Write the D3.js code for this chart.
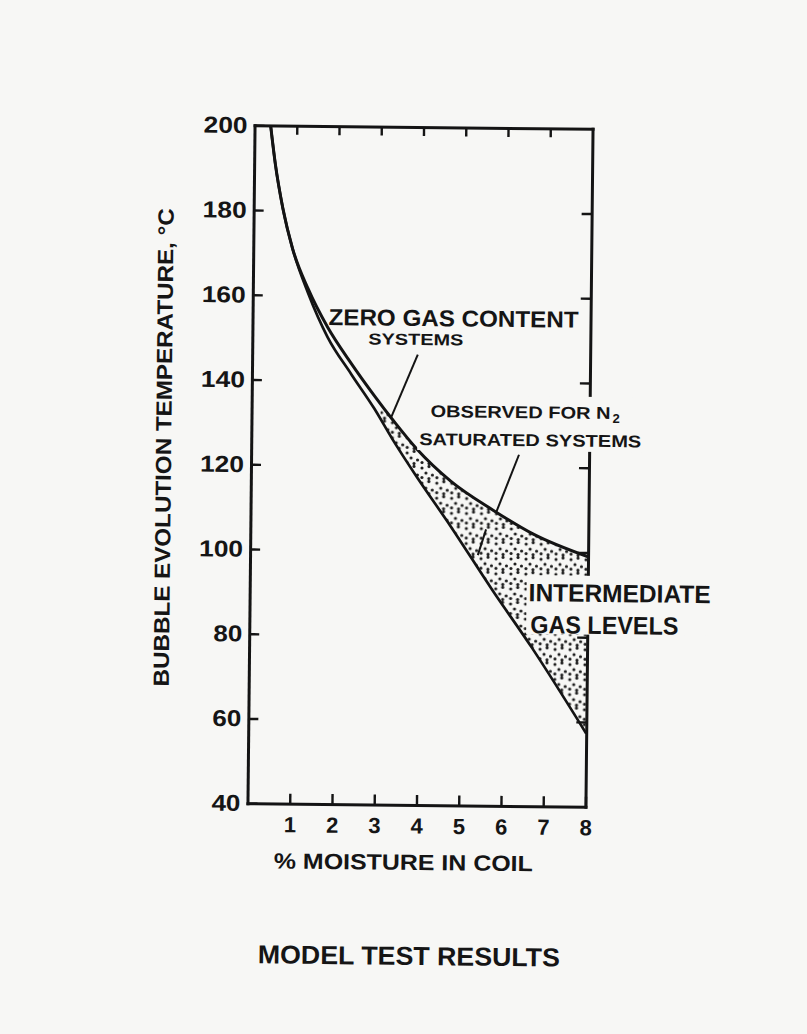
<!DOCTYPE html>
<html>
<head>
<meta charset="utf-8">
<script src="https://cdn.jsdelivr.net/npm/d3@7"></script>
<style>
  body { margin: 0; background: #f7f7f5; }
  svg { display: block; }
  text { font-family: "Liberation Sans", Arial, sans-serif; font-weight: bold; fill: #151515; }
</style>
</head>
<body>
<svg id="chart"></svg>
<script>
// values
var moisture   = [0.38, 0.5, 0.69, 0.93, 1.31, 1.78, 2.35, 2.9, 3.37, 3.92, 4.73, 5.75, 6.7, 8.0];
var upperTemp  = [200, 191, 180.5, 171, 161.5, 152.5, 144, 136.5, 130.5, 124, 116.5, 109.7, 104.2, 99];
var lowerTemp  = [200, 191, 180.5, 171, 160.5, 150.2, 141.5, 133.5, 125.8, 117.5, 106, 90.8, 77.3, 57.3];
var xTicks = [1, 2, 3, 4, 5, 6, 7, 8];
var yTicks = [40, 60, 80, 100, 120, 140, 160, 180, 200];
var dotsFrom = 3.05;   // stippling starts here
// leader lines [x1, t1, x2, t2]
var pointers = [
  [3.92, 146.3, 3.30, 131.3],
  [6.34, 122.9, 5.82, 109.4],
  [5.58, 105.2, 5.39, 99.1]
];

var width = 807, height = 1034;
var x0 = 251, x1 = 589, y0 = 127, y1 = 805;
var ink = "#141414";

var svg = d3.select("#chart").attr("width", width).attr("height", height);

var defs = svg.append("defs");
var pat = defs.append("pattern")
    .attr("id", "stipple")
    .attr("patternUnits", "userSpaceOnUse")
    .attr("width", 15).attr("height", 15);
[[2, 3], [9, 1.5], [6, 8], [12.5, 10], [2, 12.5], [9, 13.5]].forEach(function(p) {
  pat.append("circle").attr("cx", p[0]).attr("cy", p[1]).attr("r", 1.55).attr("fill", "#1c1c1c");
});

var x = d3.scaleLinear().domain([0, 8]).range([x0, x1]);
var y = d3.scaleLinear().domain([40, 200]).range([y1, y0]);

defs.append("clipPath").attr("id", "dotclip")
  .append("rect")
    .attr("x", x(dotsFrom)).attr("y", y0)
    .attr("width", x1 - x(dotsFrom)).attr("height", y1 - y0);

// the scan is a little tilted
var g = svg.append("g").attr("transform", "rotate(0.6,420,466)");

var rows = moisture.map(function(m, i) { return {m: m, hi: upperTemp[i], lo: lowerTemp[i]}; });

var area = d3.area()
    .x(function(d) { return x(d.m); })
    .y0(function(d) { return y(d.lo); })
    .y1(function(d) { return y(d.hi); })
    .curve(d3.curveMonotoneX);

g.append("path")
    .datum(rows)
    .attr("d", area)
    .attr("fill", "url(#stipple)")
    .attr("clip-path", "url(#dotclip)");

var lineHi = d3.line().x(function(d) { return x(d.m); }).y(function(d) { return y(d.hi); }).curve(d3.curveMonotoneX);
var lineLo = d3.line().x(function(d) { return x(d.m); }).y(function(d) { return y(d.lo); }).curve(d3.curveMonotoneX);

g.append("path").datum(rows).attr("d", lineHi)
    .attr("fill", "none").attr("stroke", ink).attr("stroke-width", 3);
g.append("path").datum(rows).attr("d", lineLo)
    .attr("fill", "none").attr("stroke", ink).attr("stroke-width", 2.7);

// frame + inward ticks
var axB = g.append("g").attr("transform", "translate(0," + y1 + ")")
    .call(d3.axisBottom(x).tickValues(xTicks).tickSize(-10).tickSizeOuter(0).tickPadding(13));
var axT = g.append("g").attr("transform", "translate(0," + y0 + ")")
    .call(d3.axisTop(x).tickValues(xTicks.slice(0, 7)).tickSize(-9).tickSizeOuter(0).tickFormat(""));
var axL = g.append("g").attr("transform", "translate(" + x0 + ",0)")
    .call(d3.axisLeft(y).tickValues(yTicks).tickSize(-10).tickSizeOuter(0).tickPadding(7));
var axR = g.append("g").attr("transform", "translate(" + x1 + ",0)")
    .call(d3.axisRight(y).tickValues(yTicks.slice(1, 8)).tickSize(-10).tickSizeOuter(0).tickFormat(""));

[axB, axT, axL, axR].forEach(function(a) {
  a.select(".domain").attr("stroke", ink).attr("stroke-width", 3).attr("stroke-linecap", "square");
  a.selectAll(".tick line").attr("stroke", ink).attr("stroke-width", 2.4);
});

axL.selectAll(".tick text")
    .attr("font-size", 23)
    .attr("fill", ink)
    .attr("font-family", null)
    .each(function(d) {
      d3.select(this).attr("textLength", String(d).length === 3 ? 44 : 29).attr("lengthAdjust", "spacingAndGlyphs");
    });
axB.selectAll(".tick text")
    .attr("font-size", 22)
    .attr("fill", ink)
    .attr("font-family", null);

// leader lines
pointers.forEach(function(p) {
  g.append("line")
    .attr("x1", x(p[0])).attr("y1", y(p[1]))
    .attr("x2", x(p[2])).attr("y2", y(p[3]))
    .attr("stroke", ink).attr("stroke-width", 2);
});

// label backings break the right border like the original
g.append("rect").attr("x", 417).attr("y", 395).attr("width", 230).attr("height", 55).attr("fill", "#f7f7f5");
g.append("rect").attr("x", 528).attr("y", 574).attr("width", 190).attr("height", 59).attr("fill", "#f7f7f5");

function label(txt, px, py, size, len) {
  return g.append("text")
    .attr("x", px).attr("y", py)
    .attr("font-size", size)
    .attr("textLength", len)
    .attr("lengthAdjust", "spacingAndGlyphs")
    .text(txt);
}

label("ZERO GAS CONTENT", 327, 326, 23, 250);
label("SYSTEMS", 367, 345, 16, 95);
label("OBSERVED FOR N", 430, 417, 17, 180);
g.append("text").attr("x", 612).attr("y", 421).attr("font-size", 13).text("2");
label("SATURATED SYSTEMS", 419, 445, 17, 222);
label("INTERMEDIATE", 530, 600, 25, 182);
label("GAS LEVELS", 532, 632, 25, 148);

label("% MOISTURE IN COIL", 278, 870, 22, 259);

g.append("text")
    .attr("transform", "translate(171,689) rotate(-90)")
    .attr("font-size", 22)
    .attr("textLength", 478)
    .attr("lengthAdjust", "spacingAndGlyphs")
    .text("BUBBLE EVOLUTION TEMPERATURE, °C");

label("MODEL TEST RESULTS", 263, 965, 26, 302);
</script>
</body>
</html>
